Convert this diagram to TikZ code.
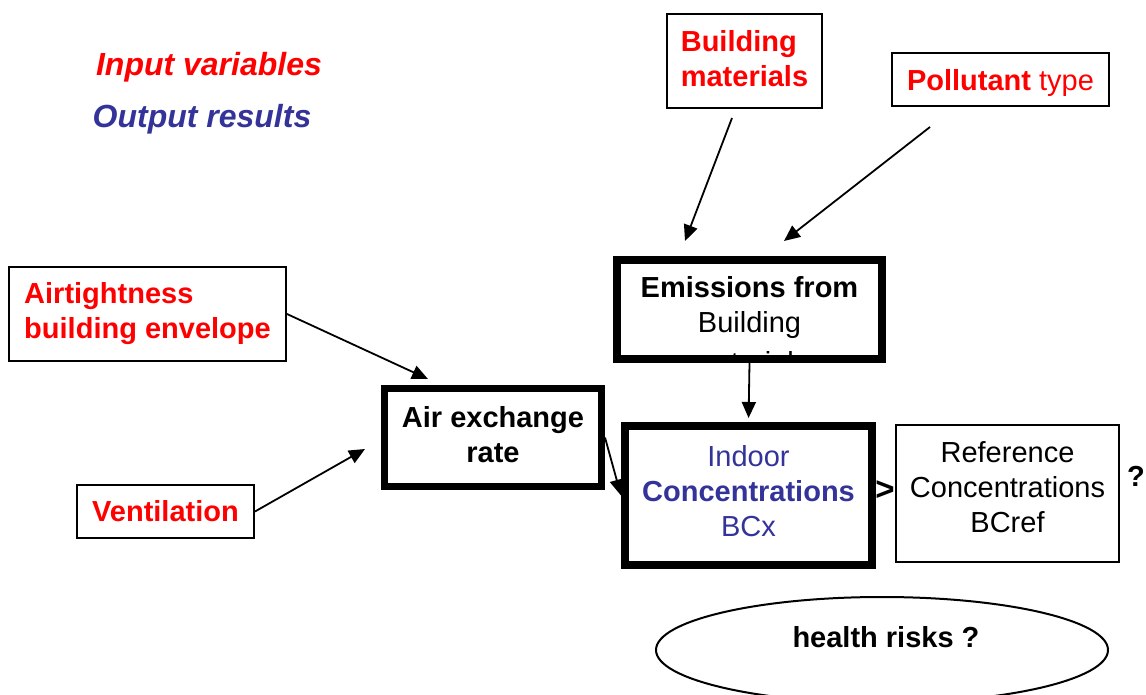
\documentclass[tikz,border=0pt]{standalone}
\usepackage{fontspec}
\setmainfont{Liberation Sans}
\usetikzlibrary{arrows.meta,calc,shapes.geometric}
\definecolor{inred}{RGB}{255,0,0}
\definecolor{outblue}{RGB}{51,51,153}
\tikzset{
  txt/.style={font=\fontsize{29}{35}\selectfont},
  btxt/.style={font=\fontsize{29}{35}\selectfont\bfseries},
  thinbox/.style={draw, line width=2.4pt, inner sep=0pt, align=center, txt},
  thickbox/.style={draw, line width=8pt, inner sep=0pt, align=center, txt},
  arr/.style={line width=1.8pt, -{Triangle[length=16pt,width=14pt]}},
  lbl/.style={inner sep=0pt, txt},
  legend/.style={inner sep=0pt, font=\fontsize{32}{38}\selectfont\bfseries\itshape},
}
\begin{document}
\begin{tikzpicture}[x=1pt,y=-1pt]
\useasboundingbox (0,0) rectangle (1146,695);

% legend
\node[legend, text=inred] (iv) at (209,67) {Input variables};
\node[legend, text=outblue] (or) at (202,119) {Output results};

% input boxes
\node[thinbox, minimum width=154.6pt, minimum height=93.6pt, align=left, text=inred, btxt, text depth=6pt] (bm) at (744.5,61) {Building\\materials};
\node[thinbox, minimum width=216.6pt, minimum height=52.6pt, text=inred, text depth=0pt] (pt) at (1000.5,79.5) {\textbf{Pollutant} type};
\node[thinbox, minimum width=276.6pt, minimum height=93.6pt, align=left, text=inred, btxt] (at) at (147.5,314) {Airtightness\\building envelope};
\node[thinbox, minimum width=176.6pt, minimum height=52.6pt, text=inred, btxt] (ve) at (165.5,511.5) {Ventilation};

% process boxes
\node[thickbox, line width=7pt, minimum width=217pt, minimum height=98pt, btxt, text depth=6pt] (ae) at (493,437.5) {Air exchange\\rate};
\node[thickbox, minimum width=265pt, minimum height=99pt] (em) at (749.5,309.5) {};
\begin{scope}
  \clip ($(em.south west)+(4,-4)$) rectangle ($(em.north east)+(-4,4)$);
  \node[lbl, align=center, anchor=north] (emt) at (749.5,276) {\textbf{Emissions from}\\Building\\[5pt]materials};
\end{scope}
\node[thickbox, minimum width=247pt, minimum height=139pt, text=outblue, text depth=10pt] (ic) at (748.5,495.5) {Indoor\\\textbf{Concentrations}\\BCx};
\node[thinbox, minimum width=222.6pt, minimum height=136.6pt, text depth=12pt] (rc) at (1007.5,493.5) {Reference\\Concentrations\\BCref};
\node[lbl, font=\fontsize{33}{35}\selectfont\bfseries] (gt) at (885,491) {>};
\node[lbl, btxt] (qm) at (1136,476) {?};

% health risks
\node[draw, ellipse, line width=2pt, inner sep=0pt, minimum width=452pt, minimum height=106pt] (hr) at (882,650) {};
\node[lbl, btxt] (hrt) at (886,637) {health risks ?};

% connectors
\coordinate (bmA) at (732,118);
\coordinate (emA) at (685,241);
\coordinate (ptA) at (930,127);
\coordinate (emB) at (784,241);
\coordinate (aeA) at (428,379);
\coordinate (aeB) at (365,449);
\draw[arr] (bmA) -- (emA);
\draw[arr] (ptA) -- (emB);
\draw[arr] (at.east) -- (aeA);
\draw[arr] (ve.east) -- (aeB);
\draw[arr] (ae.east) -- (ic.west);
\draw[arr, shorten >=4pt] (em.south) -- (ic.north);
\end{tikzpicture}
\end{document}
